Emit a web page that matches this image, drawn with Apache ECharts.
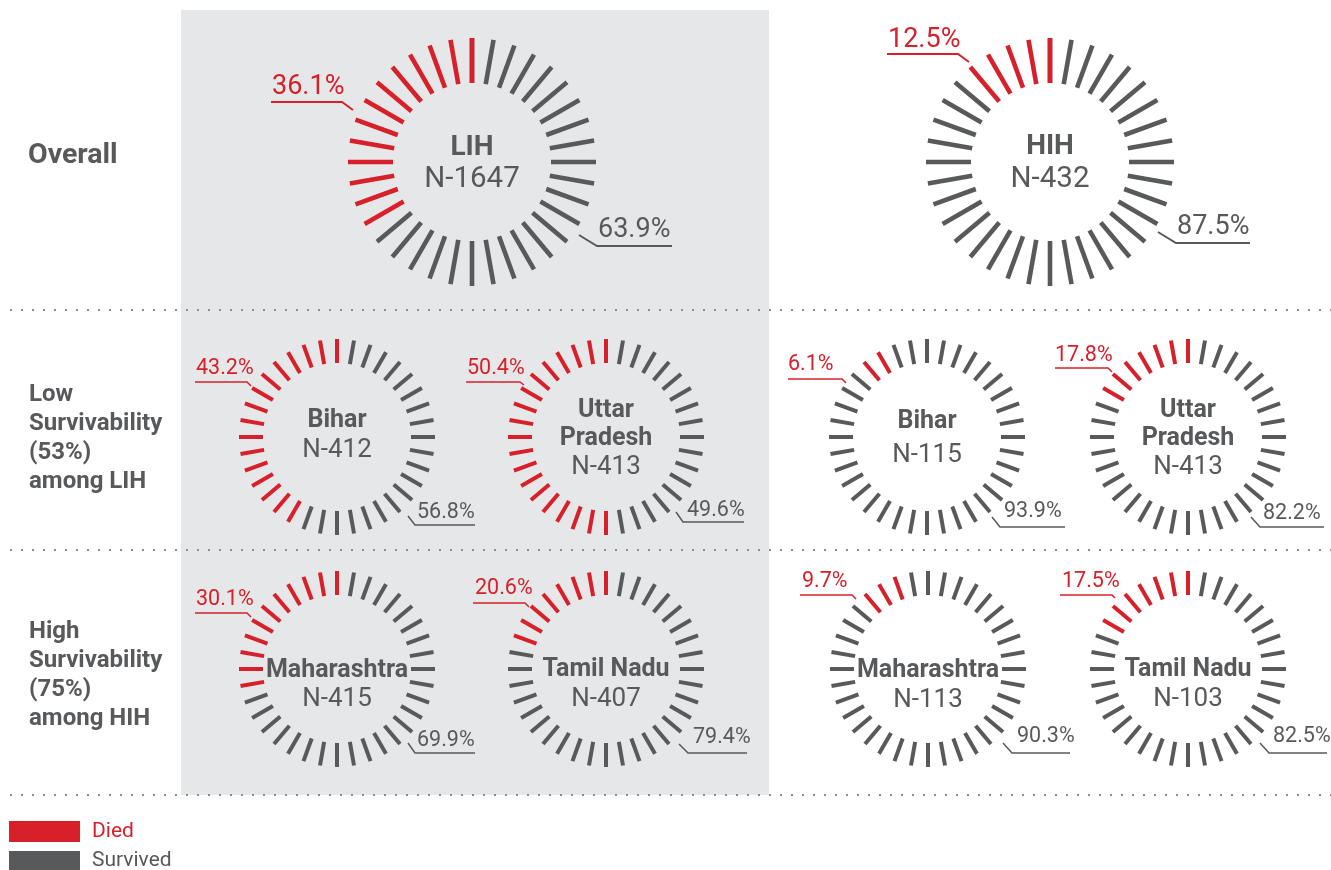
<!DOCTYPE html>
<html><head><meta charset="utf-8">
<script src="https://cdn.jsdelivr.net/npm/echarts@6/dist/echarts.min.js"></script>
<style>html,body{margin:0;padding:0;background:#fff}#c{width:1331px;height:870px}</style>
</head><body><div id="c"></div>
<script>
// ---------- data ----------
const names = ['LIH','HIH','Bihar','Uttar\nPradesh','Bihar','Uttar\nPradesh','Maharashtra','Tamil Nadu','Maharashtra','Tamil Nadu'];
const sampleSizes = [1647,432,412,413,115,413,415,407,113,103];
const diedPct = [36.1,12.5,43.2,50.4,6.1,17.8,30.1,20.6,9.7,17.5];
const survivedPct = [63.9,87.5,56.8,49.6,93.9,82.2,69.9,79.4,90.3,82.5];
const rowLabels = ['Overall','Low\nSurvivability\n(53%)\namong LIH','High\nSurvivability\n(75%)\namong HIH'];
const legendLabels = ['Died','Survived'];

// ---------- layout / style ----------
const RED = '#d7202a', GRAY = '#58595b', TXT = '#58595b', PANEL = '#e6e7e8';
const FONT = 'Roboto';
const centers = [[472,162],[1050,162],[337,437],[606,437],[927,437],[1188,437],[337,669],[606,669],[928,669],[1188,669]];
const redOffsetDeg = [0,0,0,0,25,0,0,0,12,0];
const titleDy = [-14,-15,-16,-12,-15,-12,2,1,2,1];
const detailDy = [18,18,13,30,18,30,30,30,31,30];
const diedLabelPos = [[272,87],[888,40],[196,369],[467,369],[788,365],[1055,356],[196,600],[475,589],[802,582],[1062,582]];
const diedLeader = [
  [[271,102],[342,102],[353,110]],
  [[887,54],[958,54],[969,62]],
  [[195,382],[247,382],[251,386]],
  [[466,382],[520,382],[524,385]],
  [[788,379],[842,379],[846,383]],
  [[1055,368],[1108,368],[1112,372]],
  [[195,613],[247,613],[251,617]],
  [[473,603],[525,603],[529,607]],
  [[800,595],[852,595],[856,599]],
  [[1060,595],[1112,595],[1115,598]]
];
const survLabelPos = [[598,230],[1177,227],[417,513],[687,511],[1004,512],[1263,514],[417,741],[693,738],[1017,737],[1273,737]];
const survLeader = [
  [[579,235],[597,246],[672,246]],
  [[1158,232],[1176,243],[1250,243]],
  [[408,516],[415,525],[475,525]],
  [[676,512],[683,522],[744,522]],
  [[992,517],[1000,527],[1065,527]],
  [[1251,517],[1260,527],[1324,527]],
  [[408,743],[415,753],[475,753]],
  [[679,744],[688,753],[747,753]],
  [[1003,743],[1012,753],[1070,753]],
  [[1260,743],[1269,753],[1327,753]]
];

function ring(i){
  const big = i < 2;
  const off = redOffsetDeg[i];
  const d = diedPct[i] * 3.6;
  const a = (360 - off - d) / 360, b = (360 - off) / 360;
  const stops = off > 0 ? [[a, GRAY],[b, RED],[1, GRAY]] : [[a, GRAY],[1, RED]];
  return {
    type: 'gauge', center: centers[i], radius: big ? 124 : 98,
    startAngle: 90, endAngle: -270, clockwise: true, min: 0, max: 100, splitNumber: 36,
    axisLine: { show: false, lineStyle: { width: 0, color: stops } },
    splitLine: { show: true, length: big ? 45 : 24, distance: 0, lineStyle: { color: 'auto', width: big ? 4.6 : 4, cap: 'butt' } },
    axisTick: { show: false }, axisLabel: { show: false }, pointer: { show: false },
    anchor: { show: false }, progress: { show: false },
    title: { show: true, offsetCenter: [0, titleDy[i]], fontSize: big ? 28 : 25, fontWeight: 'bold', color: TXT, fontFamily: FONT, lineHeight: 28 },
    detail: { show: true, offsetCenter: [0, detailDy[i]], formatter: 'N-' + sampleSizes[i], fontSize: big ? 29.5 : 26, fontWeight: 'normal', color: TXT, fontFamily: FONT },
    data: [{ value: diedPct[i], name: names[i] }]
  };
}

const graphics = [];
graphics.push({ type: 'rect', z: -10, shape: { x: 181, y: 10, width: 588, height: 785 }, style: { fill: PANEL } });
[310, 550, 795].forEach(y => graphics.push({ type: 'line', z: 5, shape: { x1: 10, y1: y, x2: 1331, y2: y }, style: { stroke: '#8a8c8e', lineWidth: 2, lineDash: [2, 9] } }));
graphics.push({ type: 'text', x: 28, y: 156, style: { text: rowLabels[0], font: 'bold 28.5px ' + FONT, fill: TXT, verticalAlign: 'middle' } });
graphics.push({ type: 'text', x: 29, y: 438, style: { text: rowLabels[1], font: 'bold 24px ' + FONT, lineHeight: 29, fill: TXT, verticalAlign: 'middle' } });
graphics.push({ type: 'text', x: 29, y: 675, style: { text: rowLabels[2], font: 'bold 24px ' + FONT, lineHeight: 29, fill: TXT, verticalAlign: 'middle' } });

for (let i = 0; i < names.length; i++) {
  const big = i < 2;
  const fs = big ? 27 : 21.5;
  graphics.push({ type: 'text', z: 20, x: diedLabelPos[i][0], y: diedLabelPos[i][1], style: { text: diedPct[i].toFixed(1) + '%', font: fs + 'px ' + FONT, fill: RED, verticalAlign: 'middle' } });
  graphics.push({ type: 'polyline', z: 20, shape: { points: diedLeader[i] }, style: { stroke: RED, lineWidth: big ? 2 : 1.5, fill: null } });
  graphics.push({ type: 'text', z: 20, x: survLabelPos[i][0], y: survLabelPos[i][1], style: { text: survivedPct[i].toFixed(1) + '%', font: fs + 'px ' + FONT, fill: TXT, verticalAlign: 'middle' } });
  graphics.push({ type: 'polyline', z: 20, shape: { points: survLeader[i] }, style: { stroke: TXT, lineWidth: big ? 2 : 1.5, fill: null } });
}
// legend
graphics.push({ type: 'rect', shape: { x: 9, y: 821, width: 71, height: 21 }, style: { fill: RED } });
graphics.push({ type: 'rect', shape: { x: 9, y: 851, width: 71, height: 19 }, style: { fill: GRAY } });
graphics.push({ type: 'text', x: 92, y: 832, style: { text: legendLabels[0], font: '21px ' + FONT, fill: RED, verticalAlign: 'middle' } });
graphics.push({ type: 'text', x: 92, y: 861, style: { text: legendLabels[1], font: '21px ' + FONT, fill: TXT, verticalAlign: 'middle' } });

const chart = echarts.init(document.getElementById('c'), null, { renderer: 'canvas' });
chart.setOption({
  animation: false,
  backgroundColor: '#ffffff',
  graphic: { elements: graphics },
  series: names.map((_, i) => ring(i))
});
</script></body></html>
